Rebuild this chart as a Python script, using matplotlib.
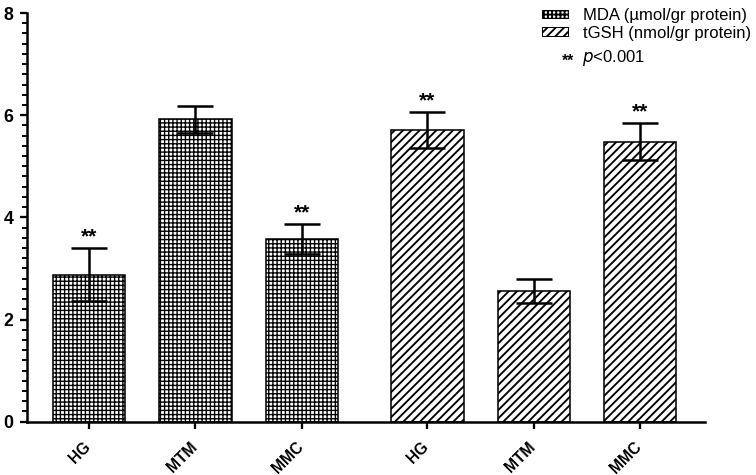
import matplotlib
matplotlib.use("Agg")
from matplotlib import pyplot as plt
from matplotlib.patches import Patch
from matplotlib.ticker import MultipleLocator
from matplotlib.transforms import ScaledTranslation

# data
groups = ["HG", "MTM", "MMC"]
mda = [2.88, 5.92, 3.58]
mda_err = [0.52, 0.26, 0.29]
tgsh = [5.71, 2.56, 5.48]
tgsh_err = [0.35, 0.24, 0.36]
mda_sig = [True, False, True]
tgsh_sig = [True, False, True]

plt.rcParams["font.family"] = ["Liberation Sans", "DejaVu Sans"]

fig = plt.figure(figsize=(756 / 75, 475 / 75), dpi=75)
ax = fig.add_axes([0.0357, 0.1122, 0.897, 0.8604])

x1 = [0, 1, 2]
x2 = [3.18, 4.18, 5.18]
w = 0.68

# thinner hatch for the checker, thicker for the diagonals
plt.rcParams["hatch.linewidth"] = 1.3
ax.bar(x1, mda, width=w, color="white", edgecolor="black", hatch="+++",
       linewidth=1.5, zorder=2)
mda_patch = Patch(facecolor="white", edgecolor="black", hatch="+++", label="MDA (\u00b5mol/gr protein)")
plt.rcParams["hatch.linewidth"] = 1.8
ax.bar(x2, tgsh, width=w, color="white", edgecolor="black", hatch="///",
       linewidth=1.5, zorder=2)
tgsh_patch = Patch(facecolor="white", edgecolor="black", hatch="///", label="tGSH (nmol/gr protein)")

ax.errorbar(x1, mda, yerr=mda_err, fmt="none", ecolor="black",
            elinewidth=2.4, capsize=17.5, capthick=2.4, zorder=3)
ax.errorbar(x2, tgsh, yerr=tgsh_err, fmt="none", ecolor="black",
            elinewidth=2.4, capsize=17.5, capthick=2.4, zorder=3)

# significance stars
for xs, vals, errs, sig in [(x1, mda, mda_err, mda_sig), (x2, tgsh, tgsh_err, tgsh_sig)]:
    for xi, v, e, s in zip(xs, vals, errs, sig):
        if s:
            ax.annotate("**", (xi, v + e), xytext=(0, 11), textcoords="offset points",
                        ha="center", va="center", fontsize=20, fontweight="bold")

ax.set_xlim(-0.582, 5.79)
ax.set_ylim(0, 8)
ax.set_xticks(x1 + x2)
ax.set_xticklabels(groups + groups, rotation=45, ha="right", va="top",
                   rotation_mode="anchor", fontsize=15, fontweight="bold")
ax.set_yticks([0, 2, 4, 6, 8])
ax.set_yticklabels(["0", "2", "4", "6", "8"], fontsize=17, fontweight="bold")
ax.yaxis.set_minor_locator(MultipleLocator(0.2))

for side in ["top", "right"]:
    ax.spines[side].set_visible(False)
for side in ["left", "bottom"]:
    ax.spines[side].set_linewidth(2.4)
ax.tick_params(axis="both", which="major", length=7, width=2.2, direction="out")
ax.tick_params(axis="y", which="minor", length=4.5, width=1.8)
ax.tick_params(axis="y", pad=6)
ax.tick_params(axis="x", pad=9)

# legend
fig.legend(handles=[mda_patch, tgsh_patch], loc="upper left", bbox_to_anchor=(0.717, 0.983),
           frameon=False, fontsize=16, handlelength=1.56, handleheight=0.42,
           handletextpad=0.9, labelspacing=0.15, borderpad=0, borderaxespad=0)
fig.text(0.743, 0.872, "**", fontsize=15, fontweight="bold", va="center")
fig.text(0.770, 0.878, "$\\it{p}$<0.001", fontsize=16, va="center")

# nudge the rotated x labels left, like the original
fig.canvas.draw()
shift = ScaledTranslation(-6 / 75, -1 / 75, fig.dpi_scale_trans)
for lbl in ax.get_xticklabels():
    lbl.set_transform(lbl.get_transform() + shift)

fig.savefig("out.png", dpi=75)
